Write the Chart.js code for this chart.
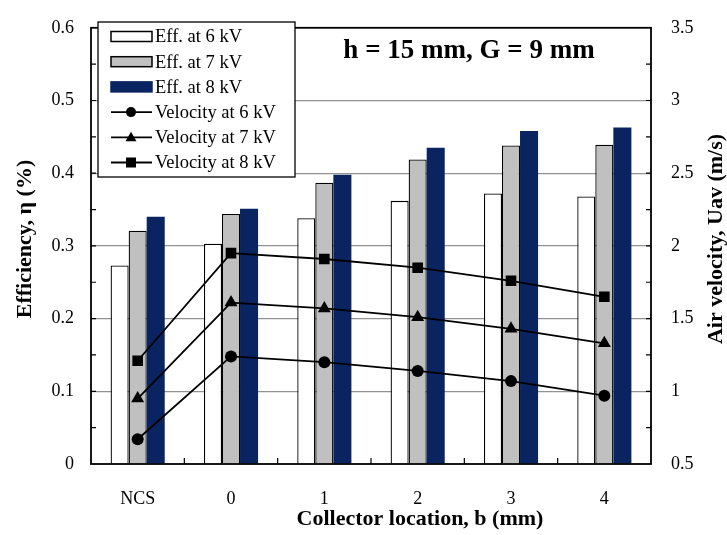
<!DOCTYPE html>
<html>
<head>
<meta charset="utf-8">
<script src="https://cdn.jsdelivr.net/npm/chart.js@4"></script>
<style>
  html, body { margin: 0; background: #fff; }
  #wrap { width: 727px; height: 535px; }
</style>
</head>
<body>
<div id="wrap"><canvas id="chart"></canvas></div>
<script>
const categories = ['NCS', '0', '1', '2', '3', '4'];

// collection efficiency (%), left axis
const eff6 = [0.273, 0.303, 0.338, 0.362, 0.372, 0.368];
const eff7 = [0.321, 0.344, 0.387, 0.419, 0.438, 0.439];
const eff8 = [0.340, 0.351, 0.398, 0.435, 0.458, 0.463];

// average air velocity (m/s), right axis
const vel6 = [0.67, 1.24, 1.20, 1.14, 1.07, 0.97];
const vel7 = [0.95, 1.61, 1.57, 1.51, 1.43, 1.33];
const vel8 = [1.21, 1.95, 1.91, 1.85, 1.76, 1.65];

const effTicks = [0, 0.1, 0.2, 0.3, 0.4, 0.5, 0.6];
const velTicks = [0.5, 1, 1.5, 2, 2.5, 3, 3.5];

const SERIF = '"Liberation Serif", "Times New Roman", serif';
const NAVY = '#0a2462';
const GREY = '#c0c0c0';

const legendItems = [
  { text: 'Eff. at 6 kV', kind: 'box', fill: '#fff', stroke: '#000' },
  { text: 'Eff. at 7 kV', kind: 'box', fill: GREY, stroke: '#000' },
  { text: 'Eff. at 8 kV', kind: 'box', fill: NAVY, stroke: NAVY },
  { text: 'Velocity at 6 kV', kind: 'line', marker: 'circle' },
  { text: 'Velocity at 7 kV', kind: 'line', marker: 'triangle' },
  { text: 'Velocity at 8 kV', kind: 'line', marker: 'rect' }
];

function marker(ctx, type, x, y) {
  ctx.beginPath();
  if (type === 'circle') {
    ctx.arc(x, y, 5, 0, Math.PI * 2);
  } else if (type === 'triangle') {
    ctx.moveTo(x, y - 5.5);
    ctx.lineTo(x + 5.5, y + 4);
    ctx.lineTo(x - 5.5, y + 4);
    ctx.closePath();
  } else {
    ctx.rect(x - 5, y - 5, 10, 10);
  }
  ctx.fill();
}

const decorations = {
  id: 'decorations',
  afterDatasetsDraw(chart) {
    const { ctx, chartArea: a, scales } = chart;
    ctx.save();

    // inward minor ticks
    ctx.strokeStyle = '#000';
    ctx.lineWidth = 1.2;
    ctx.beginPath();
    for (let i = 1; i < 12; i++) {
      const y = scales.y.getPixelForValue(i * 0.05);
      ctx.moveTo(a.left, y);
      ctx.lineTo(a.left + 5, y);
    }
    for (let i = 1; i < 12; i++) {
      const y = scales.y1.getPixelForValue(0.5 + i * 0.25);
      ctx.moveTo(a.right, y);
      ctx.lineTo(a.right - 5, y);
    }
    const step = a.width / categories.length;
    for (let i = 1; i < categories.length; i++) {
      const x = a.left + i * step;
      ctx.moveTo(x, a.bottom);
      ctx.lineTo(x, a.bottom - 6);
    }
    ctx.stroke();

    // plot frame
    ctx.lineWidth = 1.8;
    ctx.strokeRect(a.left, a.top, a.width, a.height);

    // legend
    const lx = 98, ly = 22, lw = 197, lh = 155;
    ctx.fillStyle = '#fff';
    ctx.fillRect(lx, ly, lw, lh);
    ctx.lineWidth = 1.3;
    ctx.strokeStyle = '#000';
    ctx.strokeRect(lx, ly, lw, lh);
    ctx.font = '18.5px ' + SERIF;
    ctx.textBaseline = 'middle';
    ctx.textAlign = 'left';
    legendItems.forEach((it, i) => {
      const cy = 36.5 + i * 25.2;
      if (it.kind === 'box') {
        ctx.fillStyle = it.fill;
        ctx.fillRect(111, cy - 5, 41, 10);
        ctx.strokeStyle = it.stroke;
        ctx.lineWidth = 1.5;
        ctx.strokeRect(111, cy - 5, 41, 10);
      } else {
        ctx.strokeStyle = '#000';
        ctx.lineWidth = 1.8;
        ctx.beginPath();
        ctx.moveTo(111, cy);
        ctx.lineTo(152, cy);
        ctx.stroke();
        ctx.fillStyle = '#000';
        marker(ctx, it.marker, 131, cy);
      }
      ctx.fillStyle = '#000';
      ctx.fillText(it.text, 155, cy + 1);
    });

    // case annotation
    ctx.font = 'bold 27px ' + SERIF;
    ctx.textAlign = 'center';
    ctx.textBaseline = 'alphabetic';
    ctx.fillText('h = 15 mm, G = 9 mm', 469, 58);

    // axis titles
    ctx.font = 'bold 22px ' + SERIF;
    ctx.textBaseline = 'middle';
    ctx.fillText('Collector location, b (mm)', 420, 519);
    ctx.save();
    ctx.translate(25, 239);
    ctx.rotate(-Math.PI / 2);
    ctx.fillText('Efficiency, \u03b7 (%)', 0, 0);
    ctx.restore();
    ctx.save();
    ctx.translate(716, 239);
    ctx.rotate(-Math.PI / 2);
    ctx.fillText('Air velocity, Uav (m/s)', 0, 0);
    ctx.restore();

    ctx.restore();
  }
};

const barStyle = { categoryPercentage: 0.58, barPercentage: 1.0, order: 1, yAxisID: 'y', borderSkipped: 'bottom' };
const lineStyle = { type: 'line', yAxisID: 'y1', order: 0, borderColor: '#000', borderWidth: 1.8,
                    pointBackgroundColor: '#000', pointBorderColor: '#000', pointBorderWidth: 0, fill: false, tension: 0 };

new Chart(document.getElementById('chart'), {
  type: 'bar',
  plugins: [decorations],
  data: {
    labels: categories,
    datasets: [
      { ...barStyle, label: 'Eff. at 6 kV', data: eff6, backgroundColor: '#fff', borderColor: '#000', borderWidth: 1.3 },
      { ...barStyle, label: 'Eff. at 7 kV', data: eff7, backgroundColor: GREY, borderColor: '#000', borderWidth: 1.3 },
      { ...barStyle, label: 'Eff. at 8 kV', data: eff8, backgroundColor: NAVY, borderWidth: 0 },
      { ...lineStyle, label: 'Velocity at 6 kV', data: vel6, pointStyle: 'circle', pointRadius: 6 },
      { ...lineStyle, label: 'Velocity at 7 kV', data: vel7, pointStyle: 'triangle', pointRadius: 7.5 },
      { ...lineStyle, label: 'Velocity at 8 kV', data: vel8, pointStyle: 'rect', pointRadius: 7.5 }
    ]
  },
  options: {
    responsive: true,
    maintainAspectRatio: false,
    animation: false,
    layout: { padding: { top: 14, left: 0, right: 0, bottom: 0 } },
    plugins: { legend: { display: false }, tooltip: { enabled: false } },
    scales: {
      x: {
        grid: { display: false },
        border: { display: false },
        ticks: { color: '#000', padding: 16, font: { family: SERIF, size: 18 } },
        afterFit: s => { s.height = 71; }
      },
      y: {
        position: 'left',
        min: 0, max: 0.6,
        afterBuildTicks: s => { s.ticks = effTicks.map(v => ({ value: v })); },
        grid: {
          drawTicks: false,
          color: c => (c.tick.value > 0 && c.tick.value < 0.6) ? '#929292' : 'transparent',
          lineWidth: 1.2
        },
        border: { display: false },
        ticks: { color: '#000', padding: 17, font: { family: SERIF, size: 18 }, callback: v => String(v) },
        afterFit: s => { s.width = 91; }
      },
      y1: {
        position: 'right',
        min: 0.5, max: 3.5,
        afterBuildTicks: s => { s.ticks = velTicks.map(v => ({ value: v })); },
        grid: { display: false, drawOnChartArea: false },
        border: { display: false },
        ticks: { color: '#000', padding: 12, font: { family: SERIF, size: 18 }, callback: v => String(v) },
        afterFit: s => { s.width = 76; }
      }
    }
  }
});
</script>
</body>
</html>
